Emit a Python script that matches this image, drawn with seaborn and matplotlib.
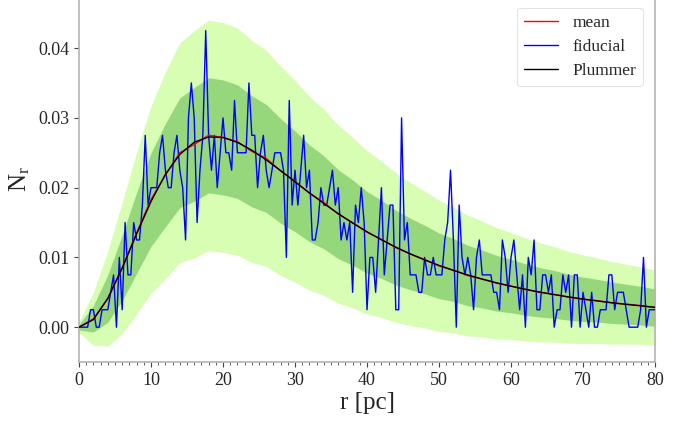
import numpy as np
import pandas as pd
import matplotlib
matplotlib.use("Agg")
import matplotlib.pyplot as plt
from matplotlib.ticker import MultipleLocator
import seaborn as sns

# ---------------- data ----------------
# smooth curves sampled every 2 pc
r_smooth = np.arange(0, 81, 2)
plummer = [0.00000, 0.00109, 0.00413, 0.00848, 0.01336, 0.01802, 0.02191, 0.02476,
           0.02651, 0.02726, 0.02719, 0.02649, 0.02537, 0.02398, 0.02244, 0.02084,
           0.01926, 0.01773, 0.01628, 0.01493, 0.01368, 0.01253, 0.01147, 0.01051,
           0.00964, 0.00885, 0.00813, 0.00748, 0.00689, 0.00636, 0.00587, 0.00543,
           0.00503, 0.00467, 0.00434, 0.00403, 0.00376, 0.00350, 0.00327, 0.00306,
           0.00286]
mean = [0.0000, 0.0012, 0.0041, 0.0085, 0.0135, 0.0183, 0.0218, 0.0250,
        0.0262, 0.0275, 0.0272, 0.0266, 0.0252, 0.0242, 0.0224, 0.0209,
        0.0192, 0.0179, 0.0162, 0.0150, 0.0136, 0.0126, 0.0114, 0.0105,
        0.0097, 0.0088, 0.0082, 0.0074, 0.0069, 0.0063, 0.0059, 0.0054,
        0.0050, 0.0047, 0.0043, 0.0040, 0.0038, 0.0035, 0.0033, 0.0031,
        0.0028]
sigma = [0.00040, 0.00190, 0.00340, 0.00470, 0.00580, 0.00671, 0.00740, 0.00787,
         0.00814, 0.00825, 0.00824, 0.00814, 0.00796, 0.00774, 0.00749, 0.00722,
         0.00694, 0.00666, 0.00638, 0.00611, 0.00585, 0.00560, 0.00536, 0.00513,
         0.00491, 0.00470, 0.00451, 0.00433, 0.00415, 0.00399, 0.00383, 0.00369,
         0.00355, 0.00342, 0.00329, 0.00318, 0.00306, 0.00296, 0.00286, 0.00277,
         0.00268]

# fiducial realisation: counts per 0.4 pc bin (1000 stars)
r_fid = np.arange(0, 80.01, 0.4)
fid_counts = [0, 0, 0, 0, 1, 1, 0, 0, 1, 1,
              1, 2, 3, 0, 4, 1, 6, 3, 3, 6,
              5, 5, 7, 11, 7, 8, 8, 8, 10, 11,
              9, 8, 8, 10, 11, 9, 8, 5, 12, 14,
              12, 6, 9, 11, 17, 11, 9, 11, 8, 10,
              12, 10, 10, 9, 13, 10, 10, 10, 10, 14,
              11, 11, 8, 10, 11, 9, 8, 9, 10, 10,
              10, 9, 4, 13, 7, 9, 7, 9, 11, 8,
              9, 5, 5, 6, 8, 7, 7, 8, 9, 7,
              8, 5, 6, 5, 6, 2, 7, 6, 8, 6,
              1, 4, 4, 2, 5, 8, 3, 5, 7, 7,
              1, 1, 12, 5, 6, 3, 3, 3, 2, 2,
              4, 3, 3, 4, 3, 3, 3, 5, 6, 9,
              5, 0, 7, 4, 3, 4, 3, 1, 4, 5,
              3, 3, 3, 3, 2, 2, 1, 5, 4, 2,
              4, 5, 3, 1, 3, 0, 4, 3, 5, 1,
              1, 3, 3, 2, 3, 0, 1, 1, 3, 2,
              3, 0, 3, 3, 0, 2, 1, 0, 2, 0,
              0, 1, 1, 1, 3, 3, 1, 2, 2, 2,
              1, 0, 0, 0, 0, 1, 4, 0, 1, 1,
              1]
n_stars = 1000
bin_width = 0.4
fiducial = np.array(fid_counts) / (n_stars * bin_width)

x_ticks = [0, 10, 20, 30, 40, 50, 60, 70, 80]
y_ticks = [0.00, 0.01, 0.02, 0.03, 0.04]

# ---------------- style ----------------
sns.set_theme(style="white")
plt.rcParams["font.family"] = ["Liberation Serif", "DejaVu Serif"]
plt.rcParams["mathtext.fontset"] = "custom"
plt.rcParams["mathtext.rm"] = "Liberation Serif"
plt.rcParams["mathtext.it"] = "Liberation Serif:italic"

fig = plt.figure(figsize=(6.9, 4.22), dpi=100)
ax = fig.add_axes([0.1145, 0.142, 0.8348, 0.868])

smooth = pd.DataFrame({"r": r_smooth, "mean": mean, "plummer": plummer, "sigma": sigma})
fid_df = pd.DataFrame({"r": r_fid, "N": fiducial})

m = smooth["mean"].to_numpy()
s = smooth["sigma"].to_numpy()
ax.fill_between(smooth["r"], m - 2 * s, m + 2 * s, color="lawngreen", alpha=0.3,
                linewidth=0, zorder=1)
ax.fill_between(smooth["r"], m - s, m + s, color="green", alpha=0.3,
                linewidth=0, zorder=2)

sns.lineplot(data=smooth, x="r", y="mean", ax=ax, color="red", linewidth=1.0,
             label="mean", zorder=4)
sns.lineplot(data=fid_df, x="r", y="N", ax=ax, color="blue", linewidth=1.0,
             label="fiducial", zorder=3)
sns.lineplot(data=smooth, x="r", y="plummer", ax=ax, color="black", linewidth=1.0,
             label="Plummer", zorder=5)

ax.set_xlim(0, 80)
ax.set_ylim(-0.005, 0.0475)
ax.set_xticks(x_ticks)
ax.set_yticks(y_ticks)
ax.set_yticklabels([f"{v:.2f}" for v in y_ticks])
ax.xaxis.set_minor_locator(MultipleLocator(1))

ax.tick_params(axis="both", which="major", labelsize=13, direction="out",
               length=3.5, width=0.8, color="#444444", bottom=True, left=True)
ax.tick_params(axis="x", which="minor", direction="out", length=2, width=0.6,
               color="#444444", bottom=True)

for side in ["left", "bottom", "right"]:
    ax.spines[side].set_color("#b3b3b3")
    ax.spines[side].set_linewidth(1.2)
ax.spines["top"].set_visible(False)

ax.set_xlabel("r [pc]", fontsize=18, labelpad=2)
ax.set_ylabel(r"$\mathrm{N_r}$", fontsize=18, labelpad=4)

leg = ax.legend(loc="upper right", fontsize=12.5, frameon=True, fancybox=True,
                handlelength=2.0, borderaxespad=0.7, labelspacing=0.45)
leg.get_frame().set_edgecolor("#dddddd")
leg.get_frame().set_linewidth(0.8)

fig.savefig("out.png", dpi=100)
